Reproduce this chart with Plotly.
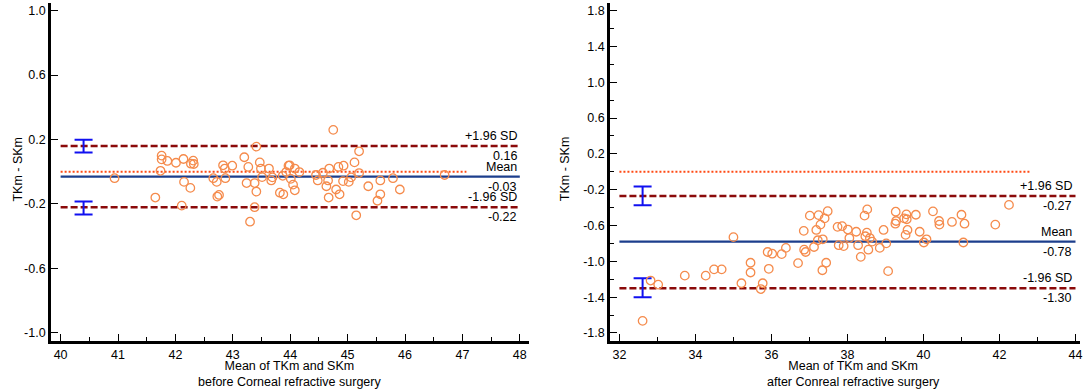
import plotly.graph_objects as go

# ---------------- data: before surgery (left panel) ----------------
before_mean_x = [40.94, 41.65, 41.76, 41.76, 41.74, 41.86, 42.01, 42.14, 42.15, 42.11,
                 42.26, 42.27, 42.31, 42.32, 42.66, 42.72, 42.73, 42.76, 42.83, 42.86,
                 42.87, 42.99, 43.20, 43.27, 43.24, 43.30, 43.38, 43.38, 43.41, 43.41,
                 43.47, 43.49, 43.51, 43.63, 43.67, 43.69, 43.82, 43.88, 43.87, 43.93,
                 43.97, 43.99, 44.01, 44.05, 44.08, 44.08, 44.16, 44.48, 44.45, 44.57,
                 44.63, 44.66, 44.67, 44.68, 44.75, 44.80, 44.84, 44.86, 44.92, 44.93,
                 45.02, 45.06, 45.12, 45.20, 45.20, 45.15, 45.36, 45.52, 45.57, 45.57,
                 45.79, 45.91, 46.69]
before_diff_y = [-0.04, -0.16, 0.10, 0.077, 0.006, 0.067, 0.056, 0.079, -0.063, -0.21,
                 -0.10, 0.05, 0.069, 0.048, -0.04, -0.063, -0.154, -0.144, 0.04, 0.02,
                 -0.04, 0.0375, 0.09, 0.03, -0.07, -0.31, -0.22, -0.07, -0.123, 0.156,
                 0.058, 0.02, -0.033, 0.02, -0.054, -0.035, -0.13, -0.14, -0.025, -0.002,
                 0.0375, 0.04, -0.044, -0.08, -0.115, 0.02, -0.002, -0.054, -0.02, -0.006,
                 -0.09, -0.054, -0.16, 0.02, 0.26, -0.11, 0.03, -0.14, -0.058, 0.0375,
                 -0.063, -0.035, 0.058, 0.127, -0.008, -0.27, -0.09, -0.18, -0.14, -0.054,
                 -0.04, -0.11, -0.02]
before_limits = {"upper": 0.16, "mean": -0.03, "lower": -0.22}
before_ci_upper = [0.12, 0.198]
before_ci_lower = [-0.265, -0.185]
before_ci_x = 40.4
before_line_x = [40.0, 48.0]
before_zero_x = [40.0, 47.07]

# ---------------- data: after surgery (right panel) ----------------
after_mean_x = [32.61, 32.82, 33.02, 33.72, 34.27, 34.49, 34.69, 35.00, 35.21, 35.45,
                35.45, 35.72, 35.77, 35.90, 36.02, 35.93, 36.27, 36.38, 36.70, 36.85,
                36.86, 36.90, 37.01, 37.12, 37.18, 37.24, 37.22, 37.29, 37.35, 37.34,
                37.40, 37.44, 37.48, 37.74, 37.77, 37.86, 37.90, 38.01, 38.05, 38.23,
                38.28, 38.35, 38.45, 38.52, 38.47, 38.51, 38.59, 38.65, 38.55, 38.85,
                38.95, 39.02, 39.07, 39.26, 39.28, 39.27, 39.49, 39.55, 39.56, 39.58,
                39.53, 39.80, 39.90, 40.01, 40.08, 40.25, 40.41, 40.42, 40.75, 41.00,
                41.08, 41.05, 41.89, 42.25]
after_diff_y = [-1.665, -1.215, -1.26, -1.16, -1.16, -1.09, -1.09, -0.73, -1.245, -1.016,
                -1.125, -1.31, -1.245, -0.896, -0.915, -1.084, -0.92, -0.85, -1.02, -0.66,
                -0.87, -0.896, -0.49, -0.84, -0.65, -0.484, -0.765, -0.59, -0.754, -1.10,
                -0.52, -1.016, -0.44, -0.615, -0.82, -0.607, -0.83, -0.645, -0.74, -0.67,
                -0.82, -0.95, -0.49, -0.42, -0.72, -0.68, -0.74, -0.78, -0.87, -0.85,
                -0.65, -0.80, -1.11, -0.58, -0.55, -0.446, -0.52, -0.476, -0.53, -0.65,
                -0.705, -0.48, -0.67, -0.79, -0.754, -0.442, -0.55, -0.59, -0.56, -0.48,
                -0.58, -0.79, -0.59, -0.37]
after_limits = {"upper": -0.27, "mean": -0.78, "lower": -1.30}
after_ci_upper = [-0.375, -0.165]
after_ci_lower = [-1.40, -1.19]
after_ci_x = 32.61
after_line_x = [32.0, 44.0]
after_zero_x = [32.0, 42.83]

# ---------------- axis / label constants ----------------
before_xticks = [40, 41, 42, 43, 44, 45, 46, 47, 48]
before_yticks = [1.0, 0.6, 0.2, -0.2, -0.6, -1.0]
after_xticks = [32, 34, 36, 38, 40, 42, 44]
after_yticks = [1.8, 1.4, 1.0, 0.6, 0.2, -0.2, -0.6, -1.0, -1.4, -1.8]
y_title = "TKm - SKm"
before_x_title = "Mean of TKm and SKm<br>before Corneal refractive surgery"
after_x_title = "Mean of TKm and SKm<br>after Conreal refractive surgery"

FONT = "Arial, Liberation Sans, sans-serif"
MARKER_COLOR = "#F58B4C"
SD_COLOR = "#8B0A0A"
MEAN_COLOR = "#1C3E8C"
ZERO_COLOR = "#FF4A14"
CI_COLOR = "#1010F0"

fig = go.Figure()


def add_panel(xa, ya, mx, dy, limits, ci_up, ci_lo, ci_x, line_x, zero_x):
    fig.add_trace(go.Scatter(x=zero_x, y=[0, 0], mode="lines", xaxis=xa, yaxis=ya,
                             line=dict(color=ZERO_COLOR, width=2, dash="2px,2px"),
                             hoverinfo="skip", showlegend=False))
    for key in ("upper", "lower"):
        fig.add_trace(go.Scatter(x=line_x, y=[limits[key]] * 2, mode="lines",
                                 xaxis=xa, yaxis=ya,
                                 line=dict(color=SD_COLOR, width=2.5, dash="7px,3px"),
                                 hoverinfo="skip", showlegend=False))
    fig.add_trace(go.Scatter(x=line_x, y=[limits["mean"]] * 2, mode="lines",
                             xaxis=xa, yaxis=ya,
                             line=dict(color=MEAN_COLOR, width=2.2),
                             hoverinfo="skip", showlegend=False))
    for ci in (ci_up, ci_lo):
        c = (ci[0] + ci[1]) / 2
        h = (ci[1] - ci[0]) / 2
        fig.add_trace(go.Scatter(x=[ci_x], y=[c], mode="markers", xaxis=xa, yaxis=ya,
                                 marker=dict(size=1, color="rgba(0,0,0,0)"),
                                 error_y=dict(type="data", array=[h], color=CI_COLOR,
                                              thickness=2, width=9),
                                 hoverinfo="skip", showlegend=False))
    fig.add_trace(go.Scatter(x=mx, y=dy, mode="markers", xaxis=xa, yaxis=ya,
                             marker=dict(symbol="circle-open", size=8.5,
                                         color=MARKER_COLOR, line=dict(width=1.3)),
                             showlegend=False))


add_panel("x", "y", before_mean_x, before_diff_y, before_limits,
          before_ci_upper, before_ci_lower, before_ci_x, before_line_x, before_zero_x)
add_panel("x2", "y2", after_mean_x, after_diff_y, after_limits,
          after_ci_upper, after_ci_lower, after_ci_x, after_line_x, after_zero_x)

ann = []
for xref, yref, xr, lim in (("x", "y", before_line_x[1], before_limits),
                            ("x2", "y2", after_line_x[1], after_limits)):
    labels = [("+1.96 SD", lim["upper"], 10), (f"{lim['upper']:.2f}", lim["upper"], -10),
              ("Mean", lim["mean"], 10), (f"{lim['mean']:.2f}", lim["mean"], -10),
              ("-1.96 SD", lim["lower"], 10), (f"{lim['lower']:.2f}", lim["lower"], -10)]
    for txt, yv, sh in labels:
        ann.append(dict(x=xr, y=yv, xref=xref, yref=yref, text=txt, showarrow=False,
                        xanchor="right", yanchor="middle", yshift=sh, xshift=-1,
                        font=dict(family=FONT, size=12.5, color="#000")))

for xp, txt in ((0.2675, before_x_title), (0.7885, after_x_title)):
    ann.append(dict(x=xp, y=-0.048, xref="paper", yref="paper", text=txt,
                    showarrow=False, xanchor="center", yanchor="top",
                    font=dict(family=FONT, size=12.5, color="#000")))
for xp in (0.0166, 0.5218):
    ann.append(dict(x=xp, y=0.51, xref="paper", yref="paper", text=y_title,
                    showarrow=False, textangle=-90, xanchor="center", yanchor="middle",
                    font=dict(family=FONT, size=12.5, color="#000")))

axis_common = dict(showline=True, linecolor="#000", linewidth=2.5, ticks="inside",
                   tickcolor="#000", ticklen=7, tickwidth=1, showgrid=False,
                   zeroline=False, mirror=False, ticklabeloverflow="allow",
                   tickfont=dict(family=FONT, size=12.5, color="#000"))

fig.update_layout(
    width=1084, height=389,
    margin=dict(l=0, r=0, t=3, b=48),
    plot_bgcolor="white", paper_bgcolor="white",
    annotations=ann,
    xaxis=dict(domain=[0.0470, 0.4889], range=[39.83, 48.16], anchor="y",
               tickvals=before_xticks, ticktext=[str(v) for v in before_xticks],
               minor=dict(dtick=0.5, ticks="inside", ticklen=4, tickcolor="#000"),
               **axis_common),
    yaxis=dict(domain=[0, 1], range=[-1.05, 1.047], anchor="x",
               tickvals=before_yticks, ticktext=[f"{v:.1f}" for v in before_yticks],
               **axis_common),
    xaxis2=dict(domain=[0.5637, 0.9982], range=[31.75, 44.12], anchor="y2",
                tickvals=after_xticks, ticktext=[str(v) for v in after_xticks],
                minor=dict(dtick=1, ticks="inside", ticklen=4, tickcolor="#000"),
                **axis_common),
    yaxis2=dict(domain=[0, 1], range=[-1.89, 1.885], anchor="x2",
                tickvals=after_yticks, ticktext=[f"{v:.1f}" for v in after_yticks],
                minor=dict(tick0=0, dtick=0.4, ticks="inside", ticklen=4, tickcolor="#000"),
                **axis_common),
)

fig.write_html("out.html", config={"displayModeBar": False},
               post_script="document.body.style.margin='0';document.body.style.padding='0';")
